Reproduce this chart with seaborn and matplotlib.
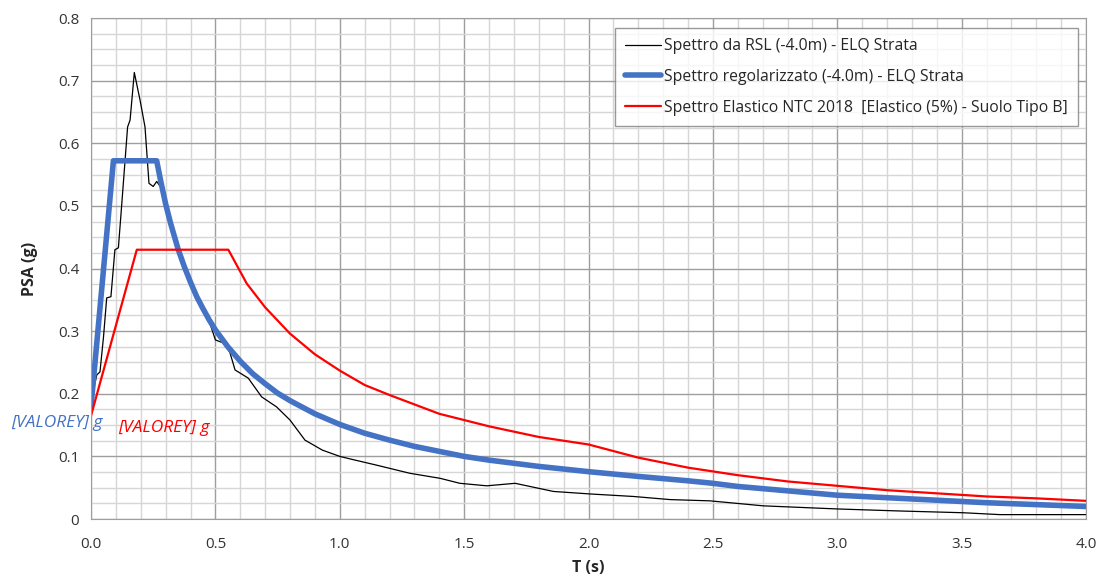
import numpy as np
import pandas as pd
import matplotlib
matplotlib.use("Agg")
import matplotlib.pyplot as plt
from matplotlib.ticker import MultipleLocator, FormatStrFormatter
import seaborn as sns

# Spettro da RSL (-4.0m) - ELQ Strata
t_rsl = [0.0, 0.012, 0.023, 0.036, 0.05, 0.063, 0.08, 0.096, 0.11, 0.123, 0.147, 0.157,
         0.174, 0.197, 0.217, 0.233, 0.25, 0.264, 0.28, 0.3, 0.35, 0.4, 0.45, 0.48, 0.5,
         0.539, 0.559, 0.579, 0.632, 0.686, 0.746, 0.8, 0.86, 0.93, 1.0, 1.041, 1.148,
         1.282, 1.403, 1.483, 1.591, 1.705, 1.859, 2.006, 2.18, 2.328, 2.488, 2.703,
         3.004, 3.252, 3.507, 3.654, 4.0]
psa_rsl = [0.18, 0.21, 0.23, 0.235, 0.29, 0.353, 0.355, 0.43, 0.433, 0.50, 0.626, 0.637,
           0.713, 0.669, 0.626, 0.536, 0.531, 0.539, 0.53, 0.50, 0.43, 0.376, 0.334, 0.31, 0.286,
           0.28, 0.265, 0.238, 0.225, 0.195, 0.179, 0.158, 0.126, 0.11, 0.10, 0.096, 0.086,
           0.073, 0.065, 0.057, 0.053, 0.057, 0.044, 0.040, 0.036, 0.031, 0.029, 0.021,
           0.016, 0.0128, 0.010, 0.007, 0.007]

# Spettro regolarizzato (-4.0m) - ELQ Strata
t_reg = [0.0, 0.09, 0.264, 0.28, 0.3, 0.32, 0.35, 0.375, 0.4, 0.425, 0.45, 0.475, 0.5,
         0.55, 0.6, 0.65, 0.7, 0.75, 0.8, 0.9, 1.0, 1.1, 1.2, 1.3, 1.4, 1.5, 1.6, 1.8,
         2.0, 2.2, 2.4, 2.5, 2.6, 2.8, 3.0, 3.2, 3.4, 3.6, 3.8, 4.0]
psa_reg = [0.18, 0.572, 0.572, 0.540, 0.503, 0.472, 0.431, 0.403, 0.378, 0.355, 0.336,
           0.318, 0.302, 0.275, 0.252, 0.232, 0.216, 0.201, 0.189, 0.168, 0.151, 0.137,
           0.126, 0.116, 0.108, 0.100, 0.094, 0.084, 0.0756, 0.068, 0.061, 0.057, 0.052,
           0.045, 0.038, 0.034, 0.030, 0.026, 0.023, 0.020]

# Spettro Elastico NTC 2018
t_ntc = [0.0, 0.184, 0.552, 0.626, 0.7, 0.8, 0.9, 1.0, 1.1, 1.2, 1.4, 1.6, 1.8, 2.0, 2.2,
         2.4, 2.6, 2.8, 3.0, 3.2, 3.4, 3.6, 3.8, 4.0]
psa_ntc = [0.165, 0.43, 0.43, 0.376, 0.338, 0.296, 0.263, 0.237, 0.214, 0.198, 0.168,
           0.148, 0.131, 0.119, 0.098, 0.082, 0.070, 0.060, 0.053, 0.046, 0.041, 0.036,
           0.033, 0.029]

lab_rsl = "Spettro da RSL (-4.0m) - ELQ Strata"
lab_reg = "Spettro regolarizzato (-4.0m) - ELQ Strata"
lab_ntc = "Spettro Elastico NTC 2018  [Elastico (5%) - Suolo Tipo B]"

blue = "#4472c4"
sns.set_style("white")
plt.rcParams['font.family'] = ['Open Sans', 'DejaVu Sans']

fig = plt.figure(figsize=(11.02, 5.81), dpi=100)
ax = fig.add_axes([0.0826, 0.1067, 0.9029, 0.8623])

sns.lineplot(x=t_rsl, y=psa_rsl, ax=ax, color="black", lw=0.9, label=lab_rsl, sort=False)
sns.lineplot(x=t_reg, y=psa_reg, ax=ax, color=blue, lw=4, label=lab_reg, sort=False)
sns.lineplot(x=t_ntc, y=psa_ntc, ax=ax, color="#ff0000", lw=1.6, label=lab_ntc, sort=False)

ax.set_xlim(0, 4.0)
ax.set_ylim(0, 0.8)
ax.xaxis.set_major_locator(MultipleLocator(0.5))
ax.xaxis.set_minor_locator(MultipleLocator(0.1))
ax.yaxis.set_major_locator(MultipleLocator(0.1))
ax.yaxis.set_minor_locator(MultipleLocator(0.025))
ax.xaxis.set_major_formatter(FormatStrFormatter('%.1f'))
ax.set_yticks(np.arange(0, 0.81, 0.1))
ax.set_yticklabels(['0'] + ['%.1f' % v for v in np.arange(0.1, 0.81, 0.1)])
ax.grid(which='major', color='#9e9e9e', lw=1.0)
ax.grid(which='minor', color='#d6d6d6', lw=1.0)
ax.set_axisbelow(True)
for s in ax.spines.values():
    s.set_color('#9e9e9e')
ax.tick_params(axis='both', which='major', labelsize=11, length=5, color='#9e9e9e',
               labelcolor='#333333', direction='out')
ax.tick_params(axis='both', which='minor', length=0)
ax.tick_params(axis='x', pad=8)

ax.set_xlabel("T (s)", fontsize=11.5, fontweight='bold', labelpad=6)
ax.set_ylabel("PSA (g)", fontsize=11.5, fontweight='bold', labelpad=14)

ax.text(-0.32, 0.153, "[VALOREY] g", color=blue, style='italic', fontsize=12.5,
        ha='left', va='center', clip_on=False)
ax.text(0.11, 0.146, "[VALOREY] g", color="#ff0000", style='italic', fontsize=12.5,
        ha='left', va='center')

leg = ax.legend(loc='upper right', bbox_to_anchor=(0.9995, 0.996), fontsize=11.3,
                frameon=True, fancybox=False, handlelength=2.3, handletextpad=0.15,
                labelspacing=0.95, borderpad=0.65)
leg.get_frame().set_edgecolor('#808080')
leg.get_frame().set_linewidth(1.0)

fig.savefig("out.png", dpi=100)
